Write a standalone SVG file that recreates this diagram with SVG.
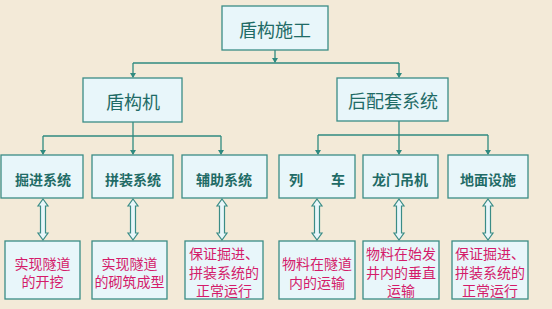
<svg xmlns="http://www.w3.org/2000/svg" xmlns:xlink="http://www.w3.org/1999/xlink" width="552" height="309" viewBox="0 0 552 309">
<style>
.box{fill:#e8f6fa;stroke:#3a8c86;stroke-width:1.3}
.t{font-family:"Noto Sans CJK SC","Noto Sans",sans-serif;fill:#1f6b66;text-anchor:middle;dominant-baseline:central}
.t1{font-size:18px}
.t3{font-size:14px;font-weight:bold}
.d{font-family:"Noto Sans CJK SC","Noto Sans",sans-serif;fill:#d41b6a;text-anchor:middle;dominant-baseline:central;font-size:14px}
.ln{fill:none;stroke:#2f8a80;stroke-width:1.3}
.ah{fill:#2f8a80}
.dbl{fill:#e8f6fa;stroke:#3a8c86;stroke-width:1.2}
</style>
<defs>
<path id="da" d="M0,0 L5,7 L2.5,7 L2.5,34 L5,34 L0,41 L-5,34 L-2.5,34 L-2.5,7 L-5,7 Z"/>
</defs>
<rect width="552" height="309" fill="#f3ead8"/>

<g id="connectors">
<path class="ln" d="M275,50 V62"/>
<path class="ah" d="M272,58 L278,58 L275,63 Z"/>
<path class="ln" d="M133,63 H399"/>
<path class="ln" d="M133,63 V77"/>
<path class="ah" d="M130,73 L136,73 L133,78 Z"/>
<path class="ln" d="M399,63 V77"/>
<path class="ah" d="M396,73 L402,73 L399,78 Z"/>

<path class="ln" d="M133,122 V154"/>
<path class="ln" d="M43,136 H221"/>
<path class="ln" d="M43,136 V154"/>
<path class="ln" d="M221,136 V154"/>
<path class="ah" d="M40,150 L46,150 L43,155 Z M130,150 L136,150 L133,155 Z M218,150 L224,150 L221,155 Z"/>

<path class="ln" d="M399,121 V154"/>
<path class="ln" d="M318,135 H488"/>
<path class="ln" d="M318,135 V154"/>
<path class="ln" d="M488,135 V154"/>
<path class="ah" d="M315,150 L321,150 L318,155 Z M396,150 L402,150 L399,155 Z M485,150 L491,150 L488,155 Z"/>

<use xlink:href="#da" href="#da" class="dbl" transform="translate(43,199)"/>
<use xlink:href="#da" href="#da" class="dbl" transform="translate(133,199)"/>
<use xlink:href="#da" href="#da" class="dbl" transform="translate(222,199)"/>
<use xlink:href="#da" href="#da" class="dbl" transform="translate(317,199)"/>
<use xlink:href="#da" href="#da" class="dbl" transform="translate(399,199)"/>
<use xlink:href="#da" href="#da" class="dbl" transform="translate(488,199)"/>
</g>

<g id="root"><rect class="box" x="222" y="6" width="106" height="44"/><text class="t t1" x="275" y="29">盾构施工</text></g>
<g id="machine"><rect class="box" x="83" y="78" width="99" height="44"/><text class="t t1" x="133" y="101">盾构机</text></g>
<g id="backup"><rect class="box" x="337" y="78" width="111" height="43"/><text class="t t1" x="393" y="100">后配套系统</text></g>

<g id="excavation"><rect class="box" x="1" y="155" width="82" height="43"/><text class="t t3" x="43" y="179">掘进系统</text></g>
<g id="assembly"><rect class="box" x="92" y="155" width="81" height="43"/><text class="t t3" x="133" y="179">拼装系统</text></g>
<g id="auxiliary"><rect class="box" x="182" y="155" width="85" height="43"/><text class="t t3" x="224" y="179">辅助系统</text></g>
<g id="train"><rect class="box" x="279" y="155" width="76" height="43"/><text class="t t3" x="317" y="179">列　　车</text></g>
<g id="gantry"><rect class="box" x="363" y="155" width="75" height="43"/><text class="t t3" x="400" y="179">龙门吊机</text></g>
<g id="ground"><rect class="box" x="448" y="155" width="80" height="43"/><text class="t t3" x="488" y="179">地面设施</text></g>

<g id="desc1"><rect class="box" x="5" y="241" width="75" height="58"/><text class="d" x="42.5" y="262.5">实现隧道</text><text class="d" x="42.5" y="281">的开挖</text></g>
<g id="desc2"><rect class="box" x="92" y="241" width="75" height="58"/><text class="d" x="129.5" y="262.5">实现隧道</text><text class="d" x="129.5" y="281">的砌筑成型</text></g>
<g id="desc3"><rect class="box" x="185" y="241" width="78" height="58"/><text class="d" x="224" y="253">保证掘进、</text><text class="d" x="224" y="271.5">拼装系统的</text><text class="d" x="224" y="290">正常运行</text></g>
<g id="desc4"><rect class="box" x="279" y="241" width="76" height="58"/><text class="d" x="317" y="263">物料在隧道</text><text class="d" x="317" y="281.5">内的运输</text></g>
<g id="desc5"><rect class="box" x="363" y="241" width="76" height="58"/><text class="d" x="401" y="253">物料在始发</text><text class="d" x="401" y="271.5">井内的垂直</text><text class="d" x="401" y="290">运输</text></g>
<g id="desc6"><rect class="box" x="452" y="241" width="76" height="58"/><text class="d" x="490" y="253">保证掘进、</text><text class="d" x="490" y="271.5">拼装系统的</text><text class="d" x="490" y="290">正常运行</text></g>
</svg>
